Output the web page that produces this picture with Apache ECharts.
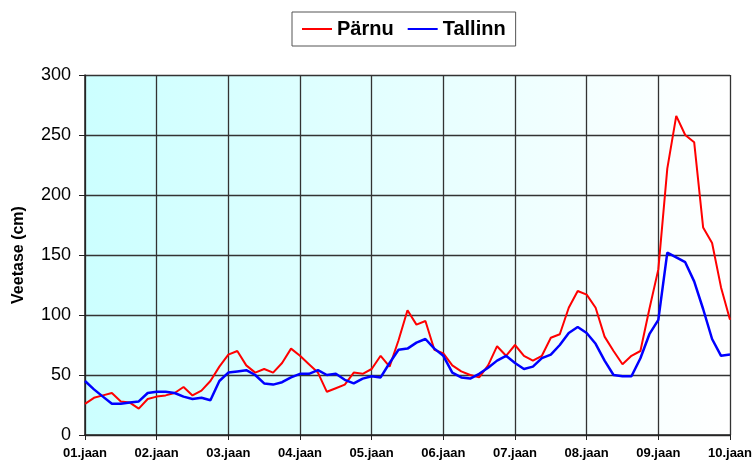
<!DOCTYPE html>
<html>
<head>
<meta charset="utf-8">
<script src="https://cdn.jsdelivr.net/npm/echarts@6/dist/echarts.min.js"></script>
<style>
  html, body { margin: 0; padding: 0; background: #fff; }
  #container { width: 756px; height: 465px; }
</style>
</head>
<body>
<div id="container"></div>
<script>
var dom = document.getElementById("container");
var myChart = echarts.init(dom);

// 3-hour steps, 8 per day, from 01.jaan to 10.jaan
var dayLabels = ['01.jaan', '02.jaan', '03.jaan', '04.jaan', '05.jaan', '06.jaan', '07.jaan', '08.jaan', '09.jaan', '10.jaan'];
var parnu = [26, 31, 33, 35, 28, 27, 22, 30,
    32, 33, 35, 40, 33, 37, 45, 57,
    67, 70, 58, 52, 55, 52, 60, 72,
    66, 59, 52, 36, 39, 42, 52, 51,
    55, 66, 57, 79, 104, 92, 95, 71,
    68, 58, 53, 50, 48, 58, 74, 66,
    75, 66, 62, 66, 81, 84, 106, 120,
    117, 106, 82, 70, 59, 66, 70, 105,
    138, 222, 266, 250, 244, 173, 160, 123,
    96];
var tallinn = [45, 38, 32, 26, 26, 27, 28, 35,
    36, 36, 35, 32, 30, 31, 29, 45,
    52, 53, 54, 50, 43, 42, 44, 48,
    51, 51, 54, 50, 51, 46, 43, 47,
    49, 48, 60, 71, 72, 77, 80, 72,
    66, 52, 48, 47, 51, 56, 62, 66,
    60, 55, 57, 64, 67, 75, 85, 90,
    85, 76, 62, 50, 49, 49, 64, 84,
    96, 152, 148, 144, 128, 105, 80, 66,
    67];

function toPairs(arr) {
    return arr.map(function (v, i) { return [i, v]; });
}

var font = '"Liberation Sans", Arial, sans-serif';

option = {
    backgroundColor: '#fff',
    animation: false,
    legend: {
        top: 12,
        left: 292,
        itemGap: 14,
        itemWidth: 30,
        itemHeight: 2,
        icon: 'rect',
        borderColor: '#555',
        borderWidth: 1,
        padding: [7, 10, 7, 10],
        textStyle: { fontFamily: font, fontSize: 20, fontWeight: 'bold', color: '#000' },
        data: ['Pärnu', 'Tallinn']
    },
    grid: {
        left: 85,
        right: 26,
        top: 75,
        bottom: 30,
        show: true,
        borderWidth: 0,
        backgroundColor: new echarts.graphic.LinearGradient(0, 0, 1, 0, [
            { offset: 0, color: '#ccffff' },
            { offset: 1, color: '#ffffff' }
        ])
    },
    xAxis: {
        type: 'value',
        min: 0,
        max: 72,
        interval: 8,
        axisLine: { lineStyle: { color: '#222', width: 1.5 } },
        axisTick: { show: true, length: 5, lineStyle: { color: '#222' } },
        axisLabel: {
            fontFamily: font, fontSize: 13, fontWeight: 'bold', color: '#000', margin: 12,
            formatter: function (v) { return dayLabels[v / 8]; }
        },
        splitLine: { show: true, lineStyle: { color: '#333', width: 1.3 } }
    },
    yAxis: {
        type: 'value',
        min: 0,
        max: 300,
        interval: 50,
        name: 'Veetase (cm)',
        nameLocation: 'middle',
        nameGap: 58,
        nameTextStyle: { fontFamily: font, fontSize: 16, fontWeight: 'bold', color: '#000' },
        axisLine: { show: true, lineStyle: { color: '#222', width: 1.5 } },
        axisTick: { show: true, length: 6, lineStyle: { color: '#222' } },
        axisLabel: { fontFamily: font, fontSize: 18, color: '#000', margin: 14 },
        splitLine: { show: true, lineStyle: { color: '#333', width: 1.3 } }
    },
    series: [{
        name: 'Pärnu',
        type: 'line',
        showSymbol: false,
        color: '#ff0000',
        lineStyle: { width: 2 },
        data: toPairs(parnu)
    }, {
        name: 'Tallinn',
        type: 'line',
        showSymbol: false,
        color: '#0000ff',
        lineStyle: { width: 2.5 },
        data: toPairs(tallinn)
    }]
};

if (option && typeof option === "object") {
    myChart.setOption(option, true);
}
</script>
</body>
</html>
